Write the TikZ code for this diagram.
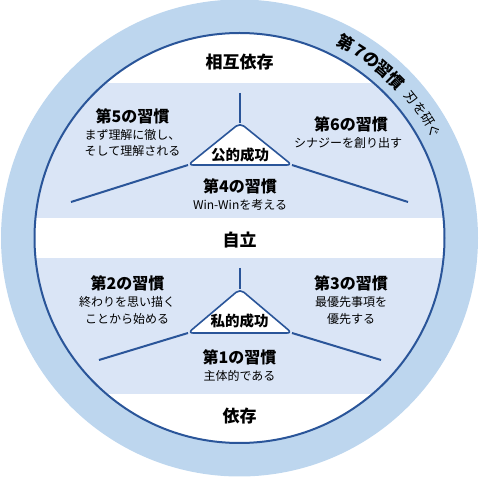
\documentclass[tikz,border=0pt]{standalone}
\usepackage{fontspec}
\setmainfont{Noto Sans CJK JP}
\usetikzlibrary{calc}
\definecolor{ring}{HTML}{BDD6EE}
\definecolor{band}{HTML}{DAE5F6}
\definecolor{navy}{HTML}{2A5599}
\tikzset{
  title/.style={font=\fontsize{16}{19}\selectfont\bfseries, inner sep=0pt},
  level/.style={font=\fontsize{17}{20}\selectfont\bfseries, inner sep=0pt},
  desc/.style={font=\fontsize{12}{16.5}\selectfont, inner sep=0pt, align=center},
  succ/.style={font=\fontsize{14.5}{17}\selectfont\bfseries, inner sep=0pt},
  divider/.style={draw=navy, line width=2pt},
  tri/.style={draw=navy, fill=white, line width=1.6pt, rounded corners=5pt, line join=round},
  arcbig/.style={font=\fontsize{16.5}{16.5}\selectfont\bfseries, inner sep=0pt},
  arcsmall/.style={font=\fontsize{13}{13}\selectfont, inner sep=0pt},
}
\begin{document}
\begin{tikzpicture}[x=1pt,y=-1pt]
\useasboundingbox (0,0) rectangle (480,478);
\coordinate (c) at (239.5,238);
\fill[ring] (c) circle[radius=238.5pt];
\fill[white] (c) circle[radius=205pt];
\begin{scope}
  \clip (c) circle[radius=205pt];
  \fill[band] (0,83) rectangle (480,218.5);
  \fill[band] (0,258) rectangle (480,394);
\end{scope}
\draw[navy, line width=2pt] (c) circle[radius=205pt];

% upper spokes and triangle
\coordinate (ua) at (240,123);
\coordinate (ul) at (188,165);
\coordinate (ur) at (292,165);
\coordinate (ub) at (240,165);
\coordinate (ut) at (240,93);
\coordinate (uL) at (71,202);
\coordinate (uR) at (408,202);
\draw[divider] (ut) -- (ua);
\draw[divider] (ul) -- (uL);
\draw[divider] (ur) -- (uR);
\draw[tri] (ub) -- (ur) -- (ua) -- (ul) -- cycle;

% lower spokes and triangle
\coordinate (la) at (240,289);
\coordinate (ll) at (188,333);
\coordinate (lr) at (292,333);
\coordinate (lb) at (240,333);
\coordinate (lt) at (240,268);
\coordinate (lL) at (99,360);
\coordinate (lR) at (381,360);
\draw[divider] (lt) -- (la);
\draw[divider] (ll) -- (lL);
\draw[divider] (lr) -- (lR);
\draw[tri] (lb) -- (lr) -- (la) -- (ll) -- cycle;

% level labels
\node[level] (sogo) at (239.5,62) {相互依存};
\node[level] (jiritsu) at (239.5,240) {自立};
\node[level] (izon) at (239.5,416) {依存};

% success labels
\node[succ] (kouteki) at (240,154.5) {公的成功};
\node[succ] (shiteki) at (239.5,320.5) {私的成功};

% habits
\node[title] (h5) at (132.5,116.5) {第5の習慣};
\node[desc]  (d5) at (132.5,143) {まず理解に徹し、\\そして理解される};
\node[title] (h6) at (351,124.5) {第6の習慣};
\node[desc]  (d6) at (348,143) {シナジーを創り出す};
\node[title] (h4) at (240,186.5) {第4の習慣};
\node[desc]  (d4) at (240,205) {Win-Winを考える};
\node[title] (h2) at (127.5,283) {第2の習慣};
\node[desc]  (d2) at (127,310.5) {終わりを思い描く\\ことから始める};
\node[title] (h3) at (351,283) {第3の習慣};
\node[desc]  (d3) at (351,310.5) {最優先事項を\\優先する};
\node[title] (h1) at (239.5,357) {第1の習慣};
\node[desc]  (d1) at (239.5,375.5) {主体的である};

% arc text
\foreach \ch/\ang [count=\i] in {第/61.4, 7/57.2, の/53.5, 習/49.4, 慣/45.2}
  \node[arcbig, rotate=\ang-90] (a\i) at ($(c)+(\ang:222pt)$) {\ch};
\foreach \ch/\ang [count=\i] in {刃/39.3, を/35.6, 研/32.1, ぐ/28.7}
  \node[arcsmall, rotate=\ang-90] (b\i) at ($(c)+(\ang:222pt)$) {\ch};
\end{tikzpicture}
\end{document}
